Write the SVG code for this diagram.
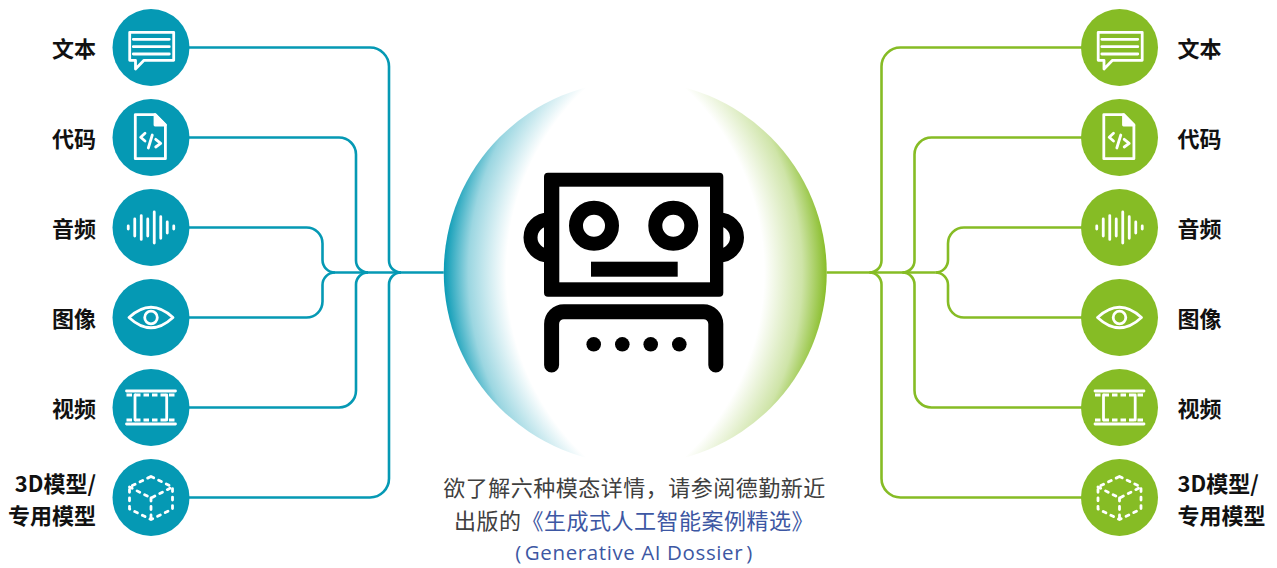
<svg xmlns="http://www.w3.org/2000/svg" width="1277" height="568" viewBox="0 0 1277 568">
  <style>
    .lbl{font-family:"Noto Sans CJK SC","Noto Sans",sans-serif;font-weight:700;font-size:22px;fill:#111}
    .cap{font-family:"Noto Sans CJK SC","Noto Sans",sans-serif;font-size:22px;fill:#404040;letter-spacing:0.5px}
    .ic{fill:none;stroke:#fff;stroke-width:2.8;stroke-linecap:round;stroke-linejoin:round}
    .dash{stroke-dasharray:3 5.5}
    .teal{fill:#0599b4}
    .green{fill:#86bc25}
    .wire{fill:none;stroke-width:2.6}
    .wire-t{stroke:#0599b4}
    .wire-g{stroke:#86bc25}
    .ink{fill:#000}
  </style>
  <defs>
    <radialGradient id="fadeTeal" gradientUnits="userSpaceOnUse" cx="760" cy="272.5" r="317">
      <stop offset="0.8" stop-color="#0599b4" stop-opacity="0"/>
      <stop offset="0.92" stop-color="#0599b4" stop-opacity="0.4"/>
      <stop offset="1" stop-color="#0599b4" stop-opacity="1"/>
    </radialGradient>
    <radialGradient id="fadeGreen" gradientUnits="userSpaceOnUse" cx="510.5" cy="272.5" r="317">
      <stop offset="0.8" stop-color="#86bc25" stop-opacity="0"/>
      <stop offset="0.92" stop-color="#86bc25" stop-opacity="0.4"/>
      <stop offset="1" stop-color="#86bc25" stop-opacity="1"/>
    </radialGradient>

    <!-- icons, drawn around (0,0) -->
    <g id="i-text" class="ic">
      <path d="M-21.3,-15.2 H22.7 V12.8 H-7 L-15.5,21.5 V12.8 H-21.3 Z"/>
      <path d="M-17.7,-8.2 H18.3 M-17.7,-0.8 H18.3 M-17.7,6.5 H18.3"/>
    </g>
    <g id="i-code" class="ic">
      <path d="M-15.7,-22.9 H4 L14.4,-12.5 V21.2 H-15.7 Z"/>
      <path d="M4,-22.9 L14.4,-12.5 H4 Z" fill="#fff"/>
      <path d="M-6,-4.2 L-10.3,-0.2 L-6,3.5"/>
      <path d="M1.3,-2.5 L-2.7,10.5"/>
      <path d="M4.7,1.8 L9.7,5.8 L4.7,9.5"/>
    </g>
    <g id="i-audio" class="ic">
      <path d="M-22.75,-1.6 V1.6 M-16.25,-8.6 V8.6 M-9.75,-11.9 V11.9 M-3.25,-8.6 V8.6 M3.25,-15.6 V15.6 M9.75,-10.8 V10.8 M16.25,-5.6 V5.6 M22.75,-1.6 V1.6"/>
    </g>
    <g id="i-eye" class="ic">
      <path d="M-22,0 Q0,-20.5 22,0 Q0,20.5 -22,0 Z"/>
      <circle cx="0" cy="0" r="6.3"/>
    </g>
    <g id="i-film" class="ic">
      <path d="M-24.5,-16.5 H24.5 M-24.5,16.5 H24.5"/>
      <path d="M-16,-12.5 V12.5 M15.7,-12.5 V12.5"/>
      <path d="M-24.5,-12.5 H24.5 M-24.5,12.5 H24.5" style="stroke-linecap:butt;stroke-dasharray:5.5 3"/>
    </g>
    <g id="i-cube" class="ic dash">
      <path d="M0,-21 L21.5,-10.5 V11.5 L0,22 L-21.5,11.5 V-10.5 Z"/>
      <path d="M-21.5,-10.5 L0,0.5 L21.5,-10.5 M0,0.5 V22"/>
    </g>
  </defs>

  <rect width="1277" height="568" fill="#fff"/>

  <!-- connectors -->
  <g id="connectors" class="wire">
    <g class="wire-t">
      <path d="M151,47.5 H370 A19,19 0 0 1 389,66.5 V260.5 A12,12 0 0 0 401,272.5"/>
      <path d="M151,137.5 H339 A17,17 0 0 1 356,154.5 V260.5 A12,12 0 0 0 368,272.5"/>
      <path d="M151,227.5 H306.5 A16,16 0 0 1 322.5,243.5 V260 A12.5,12.5 0 0 0 335,272.5"/>
      <path d="M151,317.5 H306.5 A16,16 0 0 0 322.5,301.5 V285 A12.5,12.5 0 0 1 335,272.5"/>
      <path d="M151,407.5 H339 A17,17 0 0 0 356,390.5 V284.5 A12,12 0 0 1 368,272.5"/>
      <path d="M151,497.5 H370 A19,19 0 0 0 389,478.5 V284.5 A12,12 0 0 1 401,272.5"/>
      <path d="M335,272.5 H446"/>
    </g>
    <g class="wire-g">
      <path d="M1119.5,47.5 H900.5 A19,19 0 0 0 881.5,66.5 V260.5 A12,12 0 0 1 869.5,272.5"/>
      <path d="M1119.5,137.5 H931.5 A17,17 0 0 0 914.5,154.5 V260.5 A12,12 0 0 1 902.5,272.5"/>
      <path d="M1119.5,227.5 H964 A16,16 0 0 0 948,243.5 V260 A12.5,12.5 0 0 1 935.5,272.5"/>
      <path d="M1119.5,317.5 H964 A16,16 0 0 1 948,301.5 V285 A12.5,12.5 0 0 0 935.5,272.5"/>
      <path d="M1119.5,407.5 H931.5 A17,17 0 0 1 914.5,390.5 V284.5 A12,12 0 0 0 902.5,272.5"/>
      <path d="M1119.5,497.5 H900.5 A19,19 0 0 1 881.5,478.5 V284.5 A12,12 0 0 0 869.5,272.5"/>
      <path d="M935.5,272.5 H824.5"/>
    </g>
  </g>

  <!-- central hub with robot -->
  <g id="hub">
    <circle cx="635.25" cy="272.5" r="191.5" fill="#fff"/>
    <circle cx="635.25" cy="272.5" r="191.5" fill="url(#fadeTeal)"/>
    <circle cx="635.25" cy="272.5" r="191.5" fill="url(#fadeGreen)"/>
    <g id="robot">
      <circle cx="548.5" cy="237.5" r="18" fill="none" stroke="#000" stroke-width="14"/>
      <circle cx="719" cy="237.5" r="18" fill="none" stroke="#000" stroke-width="14"/>
      <rect class="ink" x="544" y="172.7" width="179.3" height="124" rx="4"/>
      <rect x="559.3" y="186.7" width="150.7" height="95.6" fill="#fff"/>
      <circle cx="594" cy="225.7" r="18" fill="none" stroke="#000" stroke-width="14"/>
      <circle cx="673.3" cy="225.7" r="18" fill="none" stroke="#000" stroke-width="14"/>
      <rect class="ink" x="591" y="261.7" width="86.7" height="15"/>
      <path d="M551.6,365 V324 A12.3,12.3 0 0 1 563.9,311.7 H703.5 A12.3,12.3 0 0 1 715.8,324 V365" fill="none" stroke="#000" stroke-width="15" stroke-linecap="round"/>
      <circle class="ink" cx="593.7" cy="344.3" r="7.3"/>
      <circle class="ink" cx="622.3" cy="344.3" r="7.3"/>
      <circle class="ink" cx="650.7" cy="344.3" r="7.3"/>
      <circle class="ink" cx="679.3" cy="344.3" r="7.3"/>
    </g>
  </g>

  <!-- left column -->
  <g id="l-text"><circle class="teal" cx="151" cy="47.5" r="38.5"/><use href="#i-text" x="151" y="47.5"/><text class="lbl" x="96" y="57" text-anchor="end">文本</text></g>
  <g id="l-code"><circle class="teal" cx="151" cy="137.5" r="38.5"/><use href="#i-code" x="151" y="137.5"/><text class="lbl" x="96" y="147" text-anchor="end">代码</text></g>
  <g id="l-audio"><circle class="teal" cx="151" cy="227.5" r="38.5"/><use href="#i-audio" x="151" y="227.5"/><text class="lbl" x="96" y="237" text-anchor="end">音频</text></g>
  <g id="l-image"><circle class="teal" cx="151" cy="317.5" r="38.5"/><use href="#i-eye" x="151" y="317.5"/><text class="lbl" x="96" y="327" text-anchor="end">图像</text></g>
  <g id="l-video"><circle class="teal" cx="151" cy="407.5" r="38.5"/><use href="#i-film" x="151" y="407.5"/><text class="lbl" x="96" y="417" text-anchor="end">视频</text></g>
  <g id="l-3d"><circle class="teal" cx="151" cy="497.5" r="38.5"/><use href="#i-cube" x="151" y="497.5"/><text class="lbl" text-anchor="end"><tspan x="96" y="492">3D模型/</tspan><tspan x="96" y="524">专用模型</tspan></text></g>

  <!-- right column -->
  <g id="r-text"><circle class="green" cx="1119.5" cy="47.5" r="38.5"/><use href="#i-text" x="1119.5" y="47.5"/><text class="lbl" x="1177.5" y="57">文本</text></g>
  <g id="r-code"><circle class="green" cx="1119.5" cy="137.5" r="38.5"/><use href="#i-code" x="1119.5" y="137.5"/><text class="lbl" x="1177.5" y="147">代码</text></g>
  <g id="r-audio"><circle class="green" cx="1119.5" cy="227.5" r="38.5"/><use href="#i-audio" x="1119.5" y="227.5"/><text class="lbl" x="1177.5" y="237">音频</text></g>
  <g id="r-image"><circle class="green" cx="1119.5" cy="317.5" r="38.5"/><use href="#i-eye" x="1119.5" y="317.5"/><text class="lbl" x="1177.5" y="327">图像</text></g>
  <g id="r-video"><circle class="green" cx="1119.5" cy="407.5" r="38.5"/><use href="#i-film" x="1119.5" y="407.5"/><text class="lbl" x="1177.5" y="417">视频</text></g>
  <g id="r-3d"><circle class="green" cx="1119.5" cy="497.5" r="38.5"/><use href="#i-cube" x="1119.5" y="497.5"/><text class="lbl"><tspan x="1177.5" y="492">3D模型/</tspan><tspan x="1177.5" y="524">专用模型</tspan></text></g>

  <!-- caption -->
  <g id="caption">
    <text class="cap" x="634.5" y="495.5" text-anchor="middle">欲了解六种模态详情，请参阅德勤新近</text>
    <text class="cap" x="634" y="528.5" text-anchor="middle">出版的<tspan fill="#3d57a3">《生成式人工智能案例精选》</tspan></text>
    <text x="634" y="560" text-anchor="middle" font-family="'Open Sans', 'Noto Sans', sans-serif" font-size="20.5" fill="#3d57a3" letter-spacing="0.6">(<tspan dx="3">Generative AI Dossier</tspan><tspan dx="3">)</tspan></text>
  </g>
</svg>
